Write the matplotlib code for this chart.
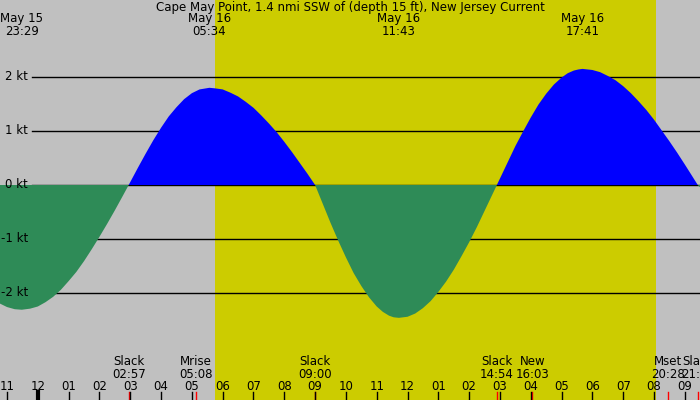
import matplotlib
matplotlib.use('Agg')
import matplotlib.pyplot as plt

# current speed (kt), hours counted from May 15 00:00
hours = [22.5, 22.75, 23.0, 23.25, 23.48, 23.75, 24.0, 24.25, 24.5, 24.75,
         25.0, 25.25, 25.5, 25.75, 26.0, 26.25, 26.5, 26.75, 26.95,
         27.25, 27.5, 27.75, 28.0, 28.25, 28.5, 28.75, 29.0, 29.25, 29.57,
         29.75, 30.0, 30.25, 30.5, 30.75, 31.0, 31.25, 31.5, 31.75, 32.0,
         32.25, 32.5, 32.75, 33.0,
         33.25, 33.5, 33.75, 34.0, 34.25, 34.5, 34.75, 35.0, 35.2, 35.4, 35.55, 35.72,
         36.0, 36.25, 36.5, 36.75, 37.0, 37.25, 37.5, 37.75, 38.0, 38.25, 38.5, 38.7, 38.9,
         39.25, 39.5, 39.75, 40.0, 40.25, 40.5, 40.75, 41.0, 41.2, 41.4, 41.55, 41.68,
         42.0, 42.25, 42.5, 42.75, 43.0, 43.25, 43.5, 43.75, 44.0, 44.25, 44.5, 44.75,
         45.0, 45.2, 45.42, 45.6]
knots = [-2.09, -2.19, -2.26, -2.30, -2.31, -2.29, -2.25, -2.17, -2.07, -1.94,
         -1.78, -1.61, -1.41, -1.19, -0.96, -0.72, -0.47, -0.21, 0.0,
         0.32, 0.58, 0.83, 1.06, 1.27, 1.44, 1.59, 1.70, 1.77, 1.80,
         1.79, 1.77, 1.71, 1.64, 1.54, 1.43, 1.29, 1.14, 0.98, 0.80,
         0.61, 0.41, 0.21, 0.0,
         -0.35, -0.70, -1.03, -1.34, -1.63, -1.87, -2.08, -2.25, -2.35, -2.42, -2.45, -2.46,
         -2.44, -2.38, -2.28, -2.15, -1.98, -1.79, -1.57, -1.32, -1.06, -0.78, -0.48, -0.24, 0.0,
         0.42, 0.72, 0.99, 1.25, 1.49, 1.69, 1.86, 1.99, 2.07, 2.12, 2.14, 2.15,
         2.13, 2.09, 2.02, 1.94, 1.83, 1.70, 1.55, 1.39, 1.21, 1.01, 0.81, 0.60,
         0.38, 0.20, 0.0, -0.10]

peak_hours = [23.48, 29.57, 35.72, 41.68]
peak_labels = ['May 15\n23:29', 'May 16\n05:34', 'May 16\n11:43', 'May 16\n17:41']

event_hours = [26.95, 29.133, 33.0, 38.9, 40.05, 44.467, 45.417]
event_labels = ['Slack\n02:57', 'Mrise\n05:08', 'Slack\n09:00', 'Slack\n14:54',
                'New\n16:03', 'Mset\n20:28', 'Slack\n21:25']

tick_hours = list(range(23, 46))
tick_labels = ['11', '12', '01', '02', '03', '04', '05', '06', '07', '08', '09', '10',
               '11', '12', '01', '02', '03', '04', '05', '06', '07', '08', '09']

levels = [2, 1, 0, -1, -2]
sunrise, sunset = 29.753, 44.06

title = 'Cape May Point, 1.4 nmi SSW of (depth 15 ft), New Jersey Current'

GRAY = '#c0c0c0'
YELLOW = '#cccc00'
GREEN = '#2e8b57'
BLUE = '#0000ff'
FS = 8.5

pxh = 30.81  # pixels per hour
x0 = 23 - 7.0 / pxh
x1 = x0 + 700 / pxh


def ky(py):
    # pixel row -> knots (0 kt at row 185, 54 px per kt)
    return (185 - py) / 54.0


def kx(px):
    return x0 + px / pxh


plt.rcParams['font.family'] = 'DejaVu Sans'
fig = plt.figure(figsize=(7, 4), dpi=100)
fig.patch.set_facecolor(GRAY)
ax = fig.add_axes([0, 0, 1, 1])
ax.set_axis_off()
ax.set_xlim(x0, x1)
ax.set_ylim(ky(400), ky(0))

ax.axvspan(sunrise, sunset, color=YELLOW, lw=0, zorder=0)

for lv in levels:
    ax.plot([kx(32), x1], [lv, lv], color='black', lw=1, zorder=1)
    ax.text(kx(28), lv, '%d kt' % lv, ha='right', va='center', fontsize=FS, zorder=5)

ax.fill_between(hours, knots, 0, where=[k >= 0 for k in knots], interpolate=True,
                color=BLUE, lw=0, zorder=2)
ax.fill_between(hours, knots, 0, where=[k <= 0 for k in knots], interpolate=True,
                color=GREEN, lw=0, zorder=2)

ax.text(kx(350), ky(8), title, ha='center', va='center', fontsize=FS)
for h, lab in zip(peak_hours, peak_labels):
    ax.text(h, ky(25), lab, ha='center', va='center', fontsize=FS, linespacing=0.95)

for h, lab in zip(event_hours, event_labels):
    ax.text(h, ky(368), lab, ha='center', va='center', fontsize=FS, linespacing=0.95)
    ax.plot([h, h], [ky(392), ky(400)], color='red', lw=1, zorder=3)

for h, lab in zip(tick_hours, tick_labels):
    ax.text(h, ky(386), lab, ha='center', va='center', fontsize=FS)
    ax.plot([h, h], [ky(392), ky(400)], color='black', lw=3 if h == 24 else 1, zorder=3)

fig.savefig('out.png', dpi=100, facecolor=GRAY)
